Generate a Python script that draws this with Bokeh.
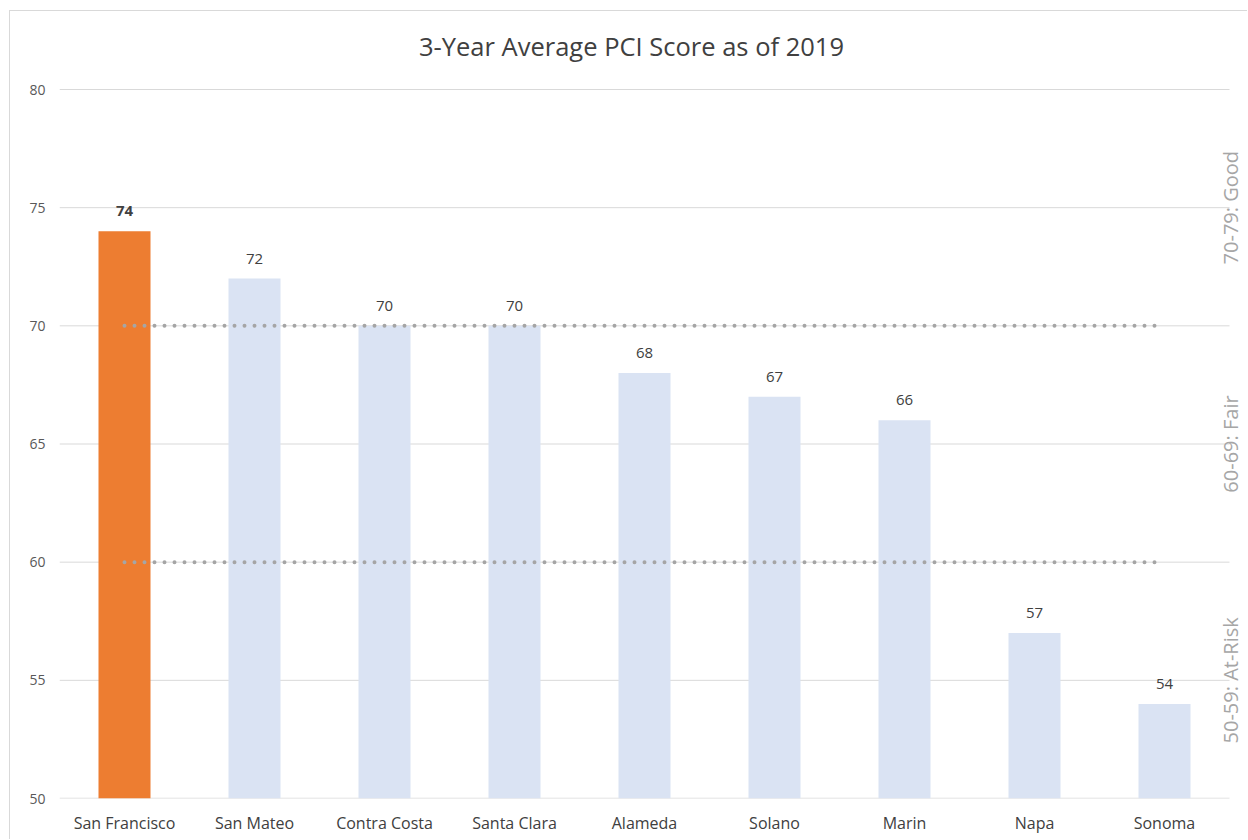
from math import pi
from bokeh.plotting import figure
from bokeh.models import ColumnDataSource, Range1d, FixedTicker, Label
from bokeh.core.properties import value
from bokeh.embed import file_html
from bokeh.resources import INLINE

counties = ["San Francisco", "San Mateo", "Contra Costa", "Santa Clara", "Alameda",
            "Solano", "Marin", "Napa", "Sonoma"]
pci = [74, 72, 70, 70, 68, 67, 66, 57, 54]
highlight = "San Francisco"
y_ticks = [50, 55, 60, 65, 70, 75, 80]
thresholds = [70, 60]
band_mid = [75, 65, 55]
band_labels = ["70-79: Good", "60-69: Fair", "50-59: At-Risk"]
title = "3-Year Average PCI Score as of 2019"

FONT = "Open Sans"
ORANGE = "#ED7D31"
BLUE = "#DAE3F3"
GRID = "#d9d9d9"

n = len(counties)
idx = list(range(n))
colors = [ORANGE if c == highlight else BLUE for c in counties]
src = ColumnDataSource(dict(x=idx, y=pci, c=colors))
hi = [i for i in idx if counties[i] == highlight]
lo = [i for i in idx if counties[i] != highlight]
src_hi = ColumnDataSource(dict(x=hi, y=[pci[i] for i in hi], t=[str(pci[i]) for i in hi]))
src_lo = ColumnDataSource(dict(x=lo, y=[pci[i] for i in lo], t=[str(pci[i]) for i in lo]))

# room on the right for the band labels, room on top for the title
right_room = 19 / 130
top_room = 78 / (709 / 30)
y_top = y_ticks[-1] + top_room
p = figure(width=1238, height=829, x_range=Range1d(-0.5, n - 0.5 + right_room),
           y_range=Range1d(y_ticks[0], y_top), output_backend="svg", toolbar_location=None,
           min_border_left=49, min_border_right=0, min_border_top=0, min_border_bottom=42)
p.styles = {"margin-left": "9px", "margin-top": "10px",
            "border-left": "1px solid #d9d9d9", "border-top": "1px solid #d9d9d9"}
p.outline_line_color = None
p.background_fill_color = "white"
p.border_fill_color = "white"

# chart title
p.text(x=[(n - 1) / 2], y=[y_top], text=[title], x_offset=-13, y_offset=34,
       text_align="center", text_baseline="middle", text_font=value(FONT),
       text_font_size="25.5px", text_color="#404040")

# horizontal gridlines limited to the category bands
p.xgrid.grid_line_color = None
p.ygrid.grid_line_color = None
p.segment(x0=[-0.5] * len(y_ticks[1:]), x1=[n - 0.5] * len(y_ticks[1:]), y0=y_ticks[1:], y1=y_ticks[1:],
          line_color=GRID, line_width=1)
p.segment(x0=[-0.5], x1=[n - 0.5], y0=[y_ticks[0]], y1=[y_ticks[0]], line_color=GRID, line_width=1.5)

p.vbar(x="x", top="y", bottom=y_ticks[0], width=0.4, fill_color="c", line_color=None, source=src)

for t in thresholds:
    p.line(x=[idx[0], idx[-1]], y=[t, t], line_color="#A5A5A5", line_width=4,
           line_dash="0 10", line_cap="round")

p.text(x="x", y="y", text="t", source=src_lo, text_align="center", text_baseline="bottom",
       y_offset=-15, text_font=value(FONT), text_font_size="15px", text_color="#404040")
p.text(x="x", y="y", text="t", source=src_hi, text_align="center", text_baseline="bottom",
       y_offset=-15, text_font=value(FONT), text_font_size="15px", text_color="#404040",
       text_font_style="bold")

for yv, lab in zip(band_mid, band_labels):
    p.add_layout(Label(x=n - 0.5, y=yv, x_offset=1, text=lab, angle=pi / 2,
                       text_align="center", text_baseline="middle", text_font=FONT,
                       text_font_size="20px", text_color="#A6A6A6"))

p.yaxis.ticker = FixedTicker(ticks=y_ticks)
p.yaxis.axis_line_color = None
p.yaxis.major_tick_line_color = None
p.yaxis.minor_tick_line_color = None
p.yaxis.major_label_standoff = 8
p.yaxis.major_label_text_font = FONT
p.yaxis.major_label_text_font_size = "14px"
p.yaxis.major_label_text_color = "#595959"

p.xaxis.ticker = FixedTicker(ticks=idx)
p.xaxis.major_label_overrides = {i: c for i, c in zip(idx, counties)}
p.xaxis.axis_line_color = None
p.xaxis.major_tick_line_color = None
p.xaxis.minor_tick_line_color = None
p.xaxis.major_label_standoff = 7
p.xaxis.major_label_text_font = FONT
p.xaxis.major_label_text_font_size = "16px"
p.xaxis.major_label_text_color = "#404040"

open("out.html", "w").write(file_html(p, INLINE))
